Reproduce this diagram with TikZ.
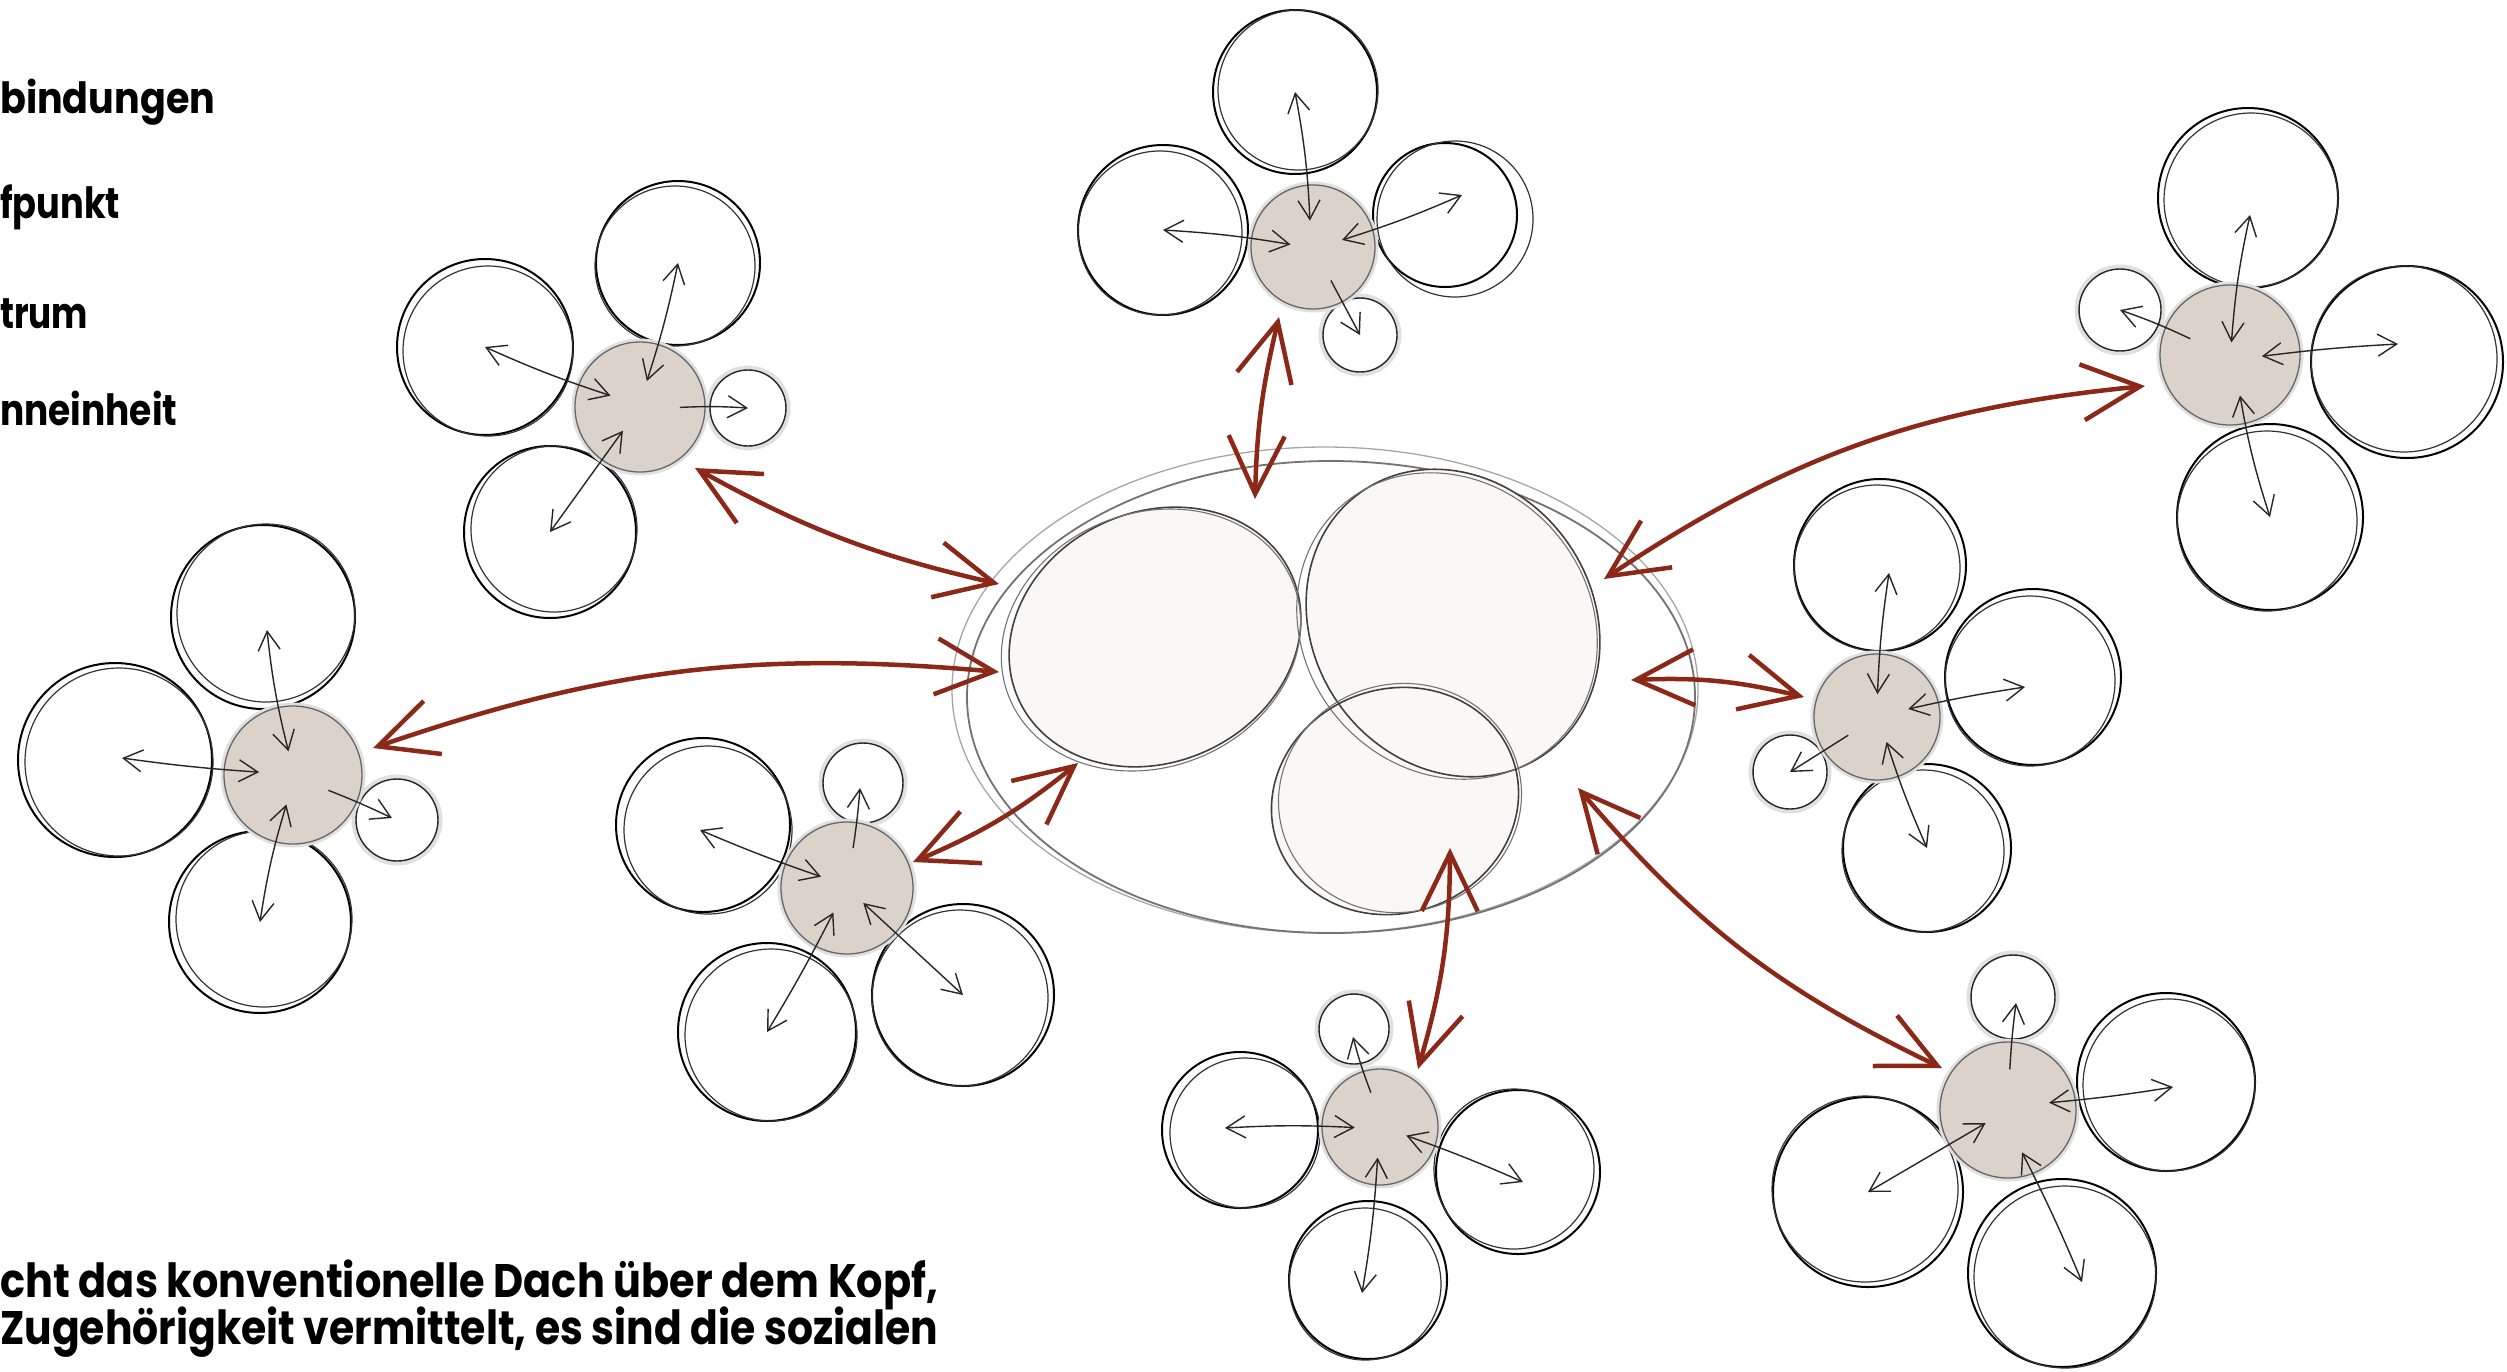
\documentclass[tikz,border=0pt]{standalone}
\usepackage{fontspec}
\usepackage{graphicx}
\newfontfamily\gfont{Poppins}
\usetikzlibrary{arrows.meta,calc,shapes.geometric}
\definecolor{hubc}{RGB}{219,210,201}
\definecolor{redc}{RGB}{140,40,24}
\definecolor{innerc}{RGB}{249,248,246}
\tikzset{
 sat/.style={circle, draw=black, line width=2pt, inner sep=0pt},
 ghost/.style={draw=black!80, line width=1.2pt},
 smallsat/.style={circle, draw=black!85, line width=1.4pt, inner sep=0pt},
 halo/.style={draw=black!20, line width=5pt, opacity=0.6},
 hub/.style={circle, fill=hubc, draw=black!60, line width=1.3pt, inner sep=0pt},
 tipb/.tip={Straight Barb[length=19pt,width=22pt]},
 dbl/.style={draw=black!85, line width=1.4pt, tipb-tipb},
 sgl/.style={draw=black!85, line width=1.4pt, -tipb},
 tipr/.tip={Straight Barb[length=58pt,width=56pt]},
 redlink/.style={draw=redc, line width=4.5pt, line cap=round, tipr-tipr},
 innerfill/.style={ellipse, fill=innerc, inner sep=0pt},
 innerline/.style={draw=black!75, line width=1.6pt},
 innerghost/.style={draw=black!55, line width=1.1pt},
 lbl/.style={anchor=base west, inner sep=0pt, font=\gfont\bfseries\fontsize{43}{50}\selectfont},
 txt/.style={anchor=base west, inner sep=0pt, font=\gfont\bfseries\fontsize{47}{54}\selectfont},
}
% name, x, y, r, ghost dx, ghost dy, ghost dr
\newcommand\satnode[7]{%
  \node[sat, minimum size={2*#4}] (#1) at (#2,#3) {};
  \draw[ghost] (#2+#5,#3+#6) circle[radius={#4+#7}];}
\newcommand\smallnode[4]{%
  \draw[halo] (#2,#3) circle[radius={#4+2}];
  \node[smallsat, minimum size={2*#4}] (#1) at (#2,#3) {};}
\newcommand\hubnode[4]{%
  \draw[draw=black!12, line width=5pt] (#2,#3) circle[radius={#4+1}];
  \node[hub, minimum size={2*#4}] (#1) at (#2,#3) {};}
\begin{document}
\begin{tikzpicture}[x=1pt,y=-1pt]
\useasboundingbox (0,0) rectangle (2507,1371);
\fill[white] (0,0) rectangle (2507,1371);

% ---------- central group ----------
\node[ellipse, draw=black!35, line width=1.3pt, minimum width=746, minimum height=486, inner sep=0pt] (cO) at (1325,690) {};
\draw[black!55, line width=1.8pt] (1331,697) ellipse[x radius=364, y radius=236];
\node[innerfill, minimum width=300, minimum height=250, rotate=25] (cL) at (1155,637) {};
\node[innerfill, minimum width=320, minimum height=280, rotate=-55] (cR) at (1453,623) {};
\node[innerfill, minimum width=250, minimum height=224, rotate=20] (cB) at (1395,801) {};
\draw[innerline, rotate around={25:(1155,637)}] (1155,637) ellipse[x radius=150, y radius=125];
\draw[innerghost, rotate around={22:(1151,640)}] (1151,640) ellipse[x radius=153, y radius=127];
\draw[innerline, rotate around={-55:(1453,623)}] (1453,623) ellipse[x radius=160, y radius=140];
\draw[innerghost, rotate around={-50:(1447,626)}] (1447,626) ellipse[x radius=160, y radius=143];
\draw[innerline, rotate around={20:(1395,801)}] (1395,801) ellipse[x radius=125, y radius=112];
\draw[innerghost, rotate around={15:(1400,798)}] (1400,798) ellipse[x radius=122, y radius=114];

% ---------- satellites ----------
% A
\satnode{A1}{678}{263}{82}{-3}{3}{-2}
\satnode{A2}{485}{347}{88}{3}{4}{-3}
\satnode{A3}{550}{532}{86}{4}{-3}{-3}
\smallnode{A4}{748}{408}{38}
% B
\satnode{B1}{1295}{92}{82}{3}{-2}{-2}
\satnode{B2}{1163}{230}{85}{-3}{3}{-3}
\satnode{B3}{1445}{215}{72}{10}{4}{6}
\smallnode{B4}{1360}{335}{37}
% C
\satnode{C1}{2248}{198}{90}{3}{2}{-3}
\satnode{C2}{2407}{362}{96}{-3}{-3}{-3}
\satnode{C3}{2270}{517}{93}{-3}{4}{-3}
\smallnode{C4}{2120}{310}{41}
% D
\satnode{D1}{1880}{565}{86}{-3}{3}{-3}
\satnode{D2}{2033}{677}{88}{-3}{4}{-3}
\satnode{D3}{1927}{848}{84}{-4}{3}{-3}
\smallnode{D4}{1790}{772}{37}
% E
\smallnode{E1}{2013}{997}{42}
\satnode{E2}{2166}{1082}{89}{3}{3}{-3}
\satnode{E3}{1868}{1192}{95}{-3}{-3}{-2}
\satnode{E4}{2062}{1273}{94}{3}{4}{-3}
% F
\smallnode{F1}{1354}{1029}{35}
\satnode{F2}{1240}{1130}{78}{5}{3}{-3}
\satnode{F3}{1518}{1172}{82}{-4}{-3}{-2}
\satnode{F4}{1368}{1280}{79}{-3}{4}{-3}
% G
\smallnode{G1}{863}{783}{40}
\satnode{G2}{703}{825}{87}{5}{5}{-3}
\satnode{G3}{767}{1032}{89}{4}{3}{-3}
\satnode{G4}{963}{995}{91}{-3}{3}{-3}
% H
\satnode{H1}{263}{617}{92}{3}{-4}{-3}
\satnode{H2}{115}{760}{97}{4}{2}{-3}
\satnode{H3}{260}{922}{91}{4}{-3}{-3}
\smallnode{H4}{397}{820}{41}

% ---------- hubs ----------
\hubnode{hA}{640}{407}{65}
\hubnode{hB}{1313}{247}{62}
\hubnode{hC}{2230}{355}{70}
\hubnode{hD}{1877}{717}{63}
\hubnode{hE}{2008}{1110}{68}
\hubnode{hF}{1380}{1127}{58}
\hubnode{hG}{847}{888}{66}
\hubnode{hH}{293}{775}{69}

% ---------- inner arrows ----------
\draw[dbl] ($(hA)!0.18!(A1)$) to[bend right=3] (A1.center);
\draw[dbl] ($(hA)!0.19!(A2)$) to[bend left=3] (A2.center);
\draw[dbl] ($(hA)!0.19!(A3)$) to (A3.center);
\draw[sgl] ($(hA)!0.37!(A4)$) to[bend left=3] (A4.center);

\draw[dbl] ($(hB)!0.17!(B1)$) to[bend right=4] (B1.center);
\draw[dbl] ($(hB)!0.15!(B2)$) to[bend right=3] (B2.center);
\draw[dbl] ($(hB)!0.22!(B3)$) to[bend right=3] ($(B3.center)+(17,-20)$);
\draw[sgl] ($(hB)!0.38!(B4)$) to (B4.center);

\draw[dbl] ($(hC)!0.08!(C1)$) to[bend left=4] ($(C1.center)+(2,17)$);
\draw[dbl] ($(hC)!0.18!(C2)$) to[bend left=2] ($(C2.center)+(-9,-18)$);
\draw[dbl] ($(hC)!0.25!(C3)$) to[bend right=4] (C3.center);
\draw[sgl] ($(hC)!0.36!(C4)$) to[bend right=3] (C4.center);

\draw[dbl] ($(hD)!0.15!(D1)$) to[bend left=3] ($(D1.center)+(9,8)$);
\draw[dbl] ($(hD)!0.2!(D2)$) to[bend left=2] ($(D2.center)+(-8,10)$);
\draw[dbl] ($(hD)!0.19!(D3)$) to[bend right=3] (D3.center);
\draw[sgl] ($(hD)!0.33!(D4)$) to (D4.center);

\draw[sgl] ($(hE)!0.36!(E1)$) to[bend left=2] ($(E1.center)+(3,6)$);
\draw[dbl] ($(hE)!0.26!(E2)$) to[bend right=2] ($(E2.center)+(7,5)$);
\draw[dbl] ($(hE)!0.16!(E3)$) to (E3.center);
\draw[dbl] ($(hE)!0.26!(E4)$) to[bend left=2] ($(E4.center)+(20,9)$);

\draw[sgl] ($(hF)!0.35!(F1)$) to[bend left=3] ($(F1.center)+(-1,8)$);
\draw[dbl] ($(hF)!0.18!(F2)$) to[bend right=3] ($(F2.center)+(-15,-2)$);
\draw[dbl] ($(hF)!0.19!(F3)$) to[bend left=2] ($(F3.center)+(5,10)$);
\draw[dbl] ($(hF)!0.2!(F4)$) to[bend left=3] ($(F4.center)+(-6,13)$);

\draw[sgl] ($(hG)!0.38!(G1)$) to[bend right=2] ($(G1.center)+(-3,5)$);
\draw[dbl] ($(hG)!0.18!(G2)$) to[bend left=2] ($(G2.center)+(-3,5)$);
\draw[dbl] ($(hG)!0.17!(G3)$) to[bend left=2] (G3.center);
\draw[dbl] ($(hG)!0.14!(G4)$) to (G4.center);

\draw[dbl] ($(hH)!0.15!(H1)$) to[bend left=4] ($(H1.center)+(4,13)$);
\draw[dbl] ($(hH)!0.19!(H2)$) to[bend left=2] ($(H2.center)+(7,-2)$);
\draw[dbl] ($(hH)!0.2!(H3)$) to[bend right=4] (H3.center);
\draw[sgl] ($(hH)!0.34!(H4)$) to[bend left=2] ($(H4.center)+(-5,-2)$);

% ---------- red links ----------
\draw[redlink] ($(hA)+(55,61)$) to[bend right=8] ($(cO)+(-326,-106)$);
\draw[redlink] ($(hB)+(-34,70)$) to[bend right=6] ($(cO)+(-70,-191)$);
\draw[redlink] ($(hC)+(-85,31)$) to[bend right=14] ($(cO)+(279,-111)$);
\draw[redlink] ($(hD)+(-73,-20)$) to[bend right=8] ($(cO)+(306,-10)$);
\draw[redlink] ($(hE)+(-66,-42)$) to[bend left=12] ($(cO)+(253,98)$);
\draw[redlink] ($(hF)+(38,-58)$) to[bend right=8] ($(cO)+(125,158)$);
\draw[redlink] ($(hG)+(66,-26)$) to[bend right=8] ($(cO)+(-247,73)$);
\draw[redlink] ($(hH)+(80,-27)$) to[bend left=12] ($(cO)+(-326,-18)$);

% ---------- texts ----------
\node[lbl] (t1) at (0,113) {\resizebox{215pt}{\height}{bindungen}};
\node[lbl] (t2) at (0,218) {\resizebox{120pt}{\height}{fpunkt}};
\node[lbl] (t3) at (0,328) {\resizebox{88pt}{\height}{trum}};
\node[lbl] (t4) at (0,425) {\resizebox{177pt}{\height}{nneinheit}};
\node[txt] (p1) at (0,1297) {\resizebox{938pt}{\height}{cht das konventionelle Dach über dem Kopf,}};
\node[txt] (p2) at (0,1344) {\resizebox{938pt}{\height}{Zugehörigkeit vermittelt, es sind die sozialen}};
\end{tikzpicture}
\end{document}
